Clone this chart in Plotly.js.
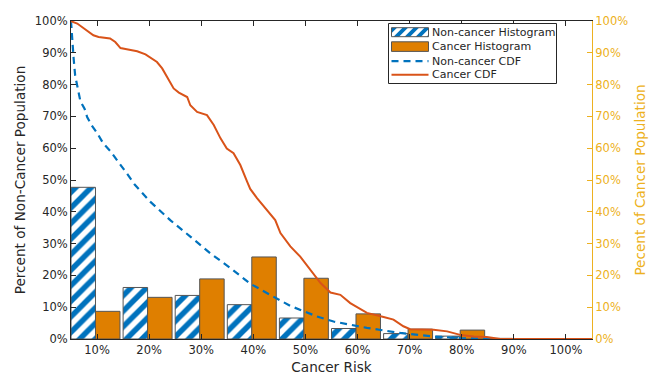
<!DOCTYPE html>
<html>
<head>
<meta charset="utf-8">
<script src="https://cdn.plot.ly/plotly-3.0.1.min.js"></script>
<style>html,body{margin:0;padding:0;background:#fff;}#chart{width:651px;height:375px;}</style>
</head>
<body>
<div id="chart"></div>
<script>
// Histogram bins (category index) and labels
const binIndex = [1, 2, 3, 4, 5, 6, 7, 8, 9, 10];
const binLabels = ['10%', '20%', '30%', '40%', '50%', '60%', '70%', '80%', '90%', '100%'];
// Histogram values (% of population)
const nonCancerHist = [47.7, 16.2, 13.7, 10.8, 6.6, 3.3, 1.7, 0.9, 0.2, 0];
const cancerHist = [8.7, 13.1, 18.9, 25.8, 19.1, 7.9, 3.1, 2.8, 0.1, 0];

// Non-cancer CDF (risk %, percent of population above risk)
const nonCancerRisk = [0, 0.1, 0.2, 0.5, 0.8, 1.4, 1.8, 2.6, 3.1, 4.0, 5.0, 6.2, 7.5, 10.7, 12.3, 15.2, 19.1, 22.9, 26.7, 30.6, 34.4, 38.2, 42.1, 47.2, 50.4, 56.8, 63.2, 69.6, 74.7, 80.5, 100];
const nonCancerCdf = [100, 97, 94, 88.3, 82.8, 77.4, 74.8, 72.4, 69.8, 67.1, 64.8, 61.5, 59.2, 52.1, 48.4, 43.2, 37.3, 32.2, 27.0, 22.3, 17.4, 13.9, 10.4, 7.1, 5.5, 3.5, 1.9, 0.8, 0.3, 0, 0];

// Cancer CDF
const cancerRisk = [0, 0.2, 1.2, 2.1, 3.1, 4.3, 5.3, 7.5, 8.5, 9.5, 10.7, 12.7, 14.3, 15.2, 16.5, 17.5, 18.4, 19.7, 20.7, 22.3, 22.9, 24.2, 26.1, 27.4, 28.7, 29.9, 31.2, 32.5, 33.8, 34.4, 35.7, 37.3, 39.2, 40.2, 42.1, 44.0, 45.9, 47.9, 49.8, 51.7, 53.6, 56.8, 60.0, 61.9, 63.8, 65.1, 69.6, 72.2, 74.7, 77.3, 79.8, 81.1, 82.4, 100];
const cancerCdf = [100, 99.8, 99.2, 98.1, 97.1, 95.5, 95.0, 94.5, 93.4, 91.5, 91.1, 90.5, 89.5, 88.4, 87.1, 85.1, 82.4, 78.8, 77.5, 76.1, 73.5, 71.4, 70.4, 67.3, 63.1, 59.9, 58.4, 54.7, 49.5, 47.2, 44.3, 41.1, 37.4, 33.3, 29.1, 25.9, 21.8, 17.6, 14.6, 13.9, 11.3, 8.2, 6.9, 6.1, 4.0, 3.1, 2.9, 2.4, 1.3, 0.8, 0.6, 0.3, 0, 0];

const yTicks = [0, 10, 20, 30, 40, 50, 60, 70, 80, 90, 100];
const yTickLabels = ['0%', '10%', '20%', '30%', '40%', '50%', '60%', '70%', '80%', '90%', '100%'];

const legendNames = ['Non-cancer Histogram', 'Cancer Histogram', 'Non-cancer CDF', 'Cancer CDF'];

const BLUE = '#0072BD', ORANGE = '#DF7F00', RED = '#D95319', YELLOW = '#EDB120', DARK = '#262626', EDGE = '#555555';
const FONT = 'DejaVu Sans, sans-serif';

// plot-area geometry (pixels) for the hand-drawn legend
const W = 651, H = 375, ML = 71, MR = 59, MT = 21, MB = 36;
const PW = W - ML - MR, PH = H - MT - MB;
const X = px => (px - ML) / PW;
const Y = py => (H - MB - py) / PH;

function clipHalf(poly, f) {
  const out = [];
  for (let i = 0; i < poly.length; i++) {
    const a = poly[i], b = poly[(i + 1) % poly.length];
    const fa = f(a), fb = f(b);
    if (fa >= 0) out.push(a);
    if ((fa >= 0) !== (fb >= 0)) {
      const t = fa / (fa - fb);
      out.push([a[0] + t * (b[0] - a[0]), a[1] + t * (b[1] - a[1])]);
    }
  }
  return out;
}
function pathOf(poly) {
  return 'M' + poly.map(p => X(p[0]).toFixed(5) + ',' + Y(p[1]).toFixed(5)).join('L') + 'Z';
}

const shapes = [];
const annotations = [];
// legend box
const LB = { x0: 388.5, x1: 556.5, y0: 23.5, y1: 83.5 };
shapes.push({ type: 'rect', xref: 'paper', yref: 'paper', x0: X(LB.x0), x1: X(LB.x1), y0: Y(LB.y1), y1: Y(LB.y0),
  line: { color: DARK, width: 1 }, fillcolor: 'white', layer: 'above' });
const symX0 = 391.5, symX1 = 428.5;
const rowY = [32.2, 46.6, 61.2, 74.8];
// hatched symbol
(function () {
  const y0 = rowY[0] - 4.5, y1 = rowY[0] + 4.5;
  const rect = [[symX0, y0], [symX1, y0], [symX1, y1], [symX0, y1]];
  const period = 11, w = 5.5;
  for (let c = symX0 + y0 - period; c < symX1 + y1; c += period) {
    let poly = clipHalf(rect, p => p[0] + p[1] - c);
    poly = clipHalf(poly, p => c + w - (p[0] + p[1]));
    if (poly.length >= 3) shapes.push({ type: 'path', xref: 'paper', yref: 'paper', path: pathOf(poly),
      fillcolor: BLUE, line: { width: 0 }, layer: 'above' });
  }
  shapes.push({ type: 'rect', xref: 'paper', yref: 'paper', x0: X(symX0), x1: X(symX1), y0: Y(y1), y1: Y(y0),
    line: { color: EDGE, width: 1 }, layer: 'above' });
})();
shapes.push({ type: 'rect', xref: 'paper', yref: 'paper', x0: X(symX0), x1: X(symX1), y0: Y(rowY[1] + 4.8), y1: Y(rowY[1] - 4.8),
  line: { color: EDGE, width: 1 }, fillcolor: ORANGE, layer: 'above' });
shapes.push({ type: 'line', xref: 'paper', yref: 'paper', x0: X(symX0), x1: X(symX1), y0: Y(rowY[2]), y1: Y(rowY[2]),
  line: { color: BLUE, width: 2.2, dash: '7px,5px' }, layer: 'above' });
shapes.push({ type: 'line', xref: 'paper', yref: 'paper', x0: X(symX0), x1: X(symX1), y0: Y(rowY[3]), y1: Y(rowY[3]),
  line: { color: RED, width: 2 }, layer: 'above' });
legendNames.forEach((t, i) => annotations.push({
  xref: 'paper', yref: 'paper', x: X(430), y: Y(rowY[i]), xanchor: 'left', yanchor: 'middle',
  text: t, showarrow: false, font: { family: FONT, size: 11, color: DARK }
}));

const traces = [
  {
    type: 'bar', name: legendNames[0], x: binIndex, y: nonCancerHist,
    xaxis: 'x', yaxis: 'y', offset: -0.5, width: 0.47,
    marker: { color: 'white', line: { color: EDGE, width: 1 },
      pattern: { shape: '/', fgcolor: BLUE, bgcolor: 'white', fgopacity: 1, size: 11, solidity: 0.5, fillmode: 'replace' } },
    hoverinfo: 'skip'
  },
  {
    type: 'bar', name: legendNames[1], x: binIndex, y: cancerHist,
    xaxis: 'x', yaxis: 'y', offset: -0.03, width: 0.47,
    marker: { color: ORANGE, line: { color: EDGE, width: 1 } },
    hoverinfo: 'skip'
  },
  {
    type: 'scatter', mode: 'lines', name: legendNames[2], x: nonCancerRisk, y: nonCancerCdf,
    xaxis: 'x2', yaxis: 'y2', line: { color: BLUE, width: 2.2, dash: '7px,5px' }, hoverinfo: 'skip'
  },
  {
    type: 'scatter', mode: 'lines', name: legendNames[3], x: cancerRisk, y: cancerCdf,
    xaxis: 'x2', yaxis: 'y2', line: { color: RED, width: 2 }, hoverinfo: 'skip'
  }
];

const layout = {
  width: W, height: H,
  margin: { l: ML, r: MR, t: MT, b: MB },
  paper_bgcolor: 'white', plot_bgcolor: 'white',
  font: { family: FONT, size: 11.5, color: DARK },
  showlegend: false,
  shapes: shapes,
  annotations: annotations,
  xaxis: {
    range: [0.5, 10.5], tickmode: 'array', tickvals: binIndex, ticktext: binLabels,
    ticks: 'inside', ticklen: 5, tickcolor: DARK, showline: true, linecolor: DARK, linewidth: 1,
    mirror: 'ticks', showgrid: false, zeroline: false,
    title: { text: 'Cancer Risk', font: { family: FONT, size: 13.6, color: DARK }, standoff: 6 }
  },
  xaxis2: { overlaying: 'x', range: [0, 100], visible: false },
  yaxis: {
    range: [0, 100], tickmode: 'array', tickvals: yTicks, ticktext: yTickLabels,
    ticks: 'inside', ticklen: 5, tickcolor: DARK, showline: true, linecolor: DARK, linewidth: 1,
    showgrid: false, zeroline: false,
    title: { text: 'Percent of Non-Cancer Population', font: { family: FONT, size: 13.6, color: DARK }, standoff: 6 }
  },
  yaxis2: {
    overlaying: 'y', side: 'right', range: [0, 100], tickmode: 'array', tickvals: yTicks, ticktext: yTickLabels,
    ticks: 'inside', ticklen: 5, tickcolor: YELLOW, showline: true, linecolor: YELLOW, linewidth: 1,
    showgrid: false, zeroline: false, tickfont: { color: YELLOW },
    title: { text: 'Pecent of Cancer Population', font: { family: FONT, size: 13.6, color: YELLOW }, standoff: 8 }
  }
};

Plotly.newPlot('chart', traces, layout, { displayModeBar: false, staticPlot: true });
</script>
</body>
</html>
